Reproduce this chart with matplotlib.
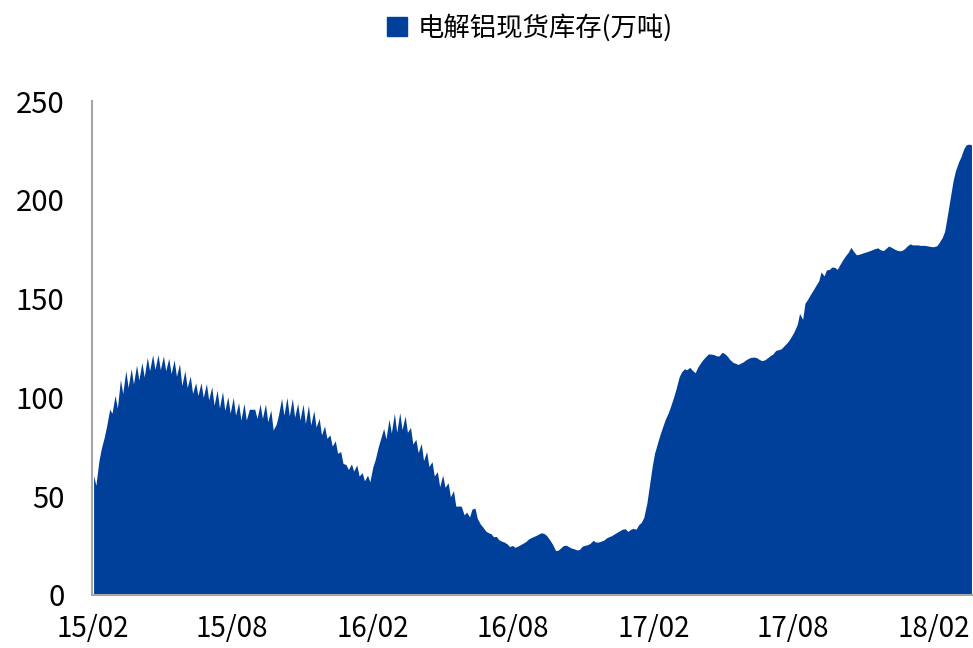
import matplotlib
matplotlib.use("Agg")
import matplotlib.pyplot as plt
import matplotlib.dates as mdates
import matplotlib.patches as mpatches
import numpy as np
import pandas as pd

# ---- data (万吨), twice-weekly readings (Mon / Thu) ----
start_monday = "2015-02-02"

mon_vals = [60.5, 68, 80, 94, 101, 109, 113.5, 114.5, 116.4, 117.6, 120.3, 121.6, 121.6, 121, 119.8, 119,
            117, 113.5, 110.8, 107.4, 107.4, 107, 105.4, 103.7, 103, 100.3, 100, 97.3, 97, 94, 94, 96.6,
            96.6, 93.6, 86.4, 99.5, 100, 99.5, 97, 96.6, 96, 93.3, 89.4, 85.5, 81, 78, 72.6, 66,
            66.3, 65.8, 61.9, 60.6, 65, 75, 84.3, 89, 92, 92.3, 90.6, 84.8, 78.8, 76.7, 72.6, 67.5,
            62.4, 60.7, 56.8, 52.8, 45, 40.5, 39.5, 44,
            35.9, 32.4, 31, 29.6, 27.2, 25.8, 25.1, 24.8, 26.3, 28.4, 29.7, 31.1, 30.9, 27.6, 22.5, 23.9,
            25.2, 23.7, 22.8, 24.8, 25.5, 27.7, 26.8, 27.8, 29.6, 31, 32.6, 33.5, 33.2, 33.3, 36.9, 46.5,
            65.2, 77.1, 85.6, 92.3, 100.3, 110.3, 114.5, 115.2, 112.5, 117.5, 120.8, 121.9, 121, 122.8, 120.8, 117.8,
            116.7, 118.1, 119.9, 120.4, 119.1, 119.1, 121.2, 123.8, 124.6, 127.4, 131.3, 137, 139.5, 150, 154.5, 159,
            161.5, 164.8, 165.8, 167.5, 171.8, 176, 172.2, 172.9, 173.8, 174.8, 175.7, 174.3, 176.6, 175.2, 174.2, 175.3,
            177.7, 177.2, 176.9, 176.8, 176.3, 176.8, 181, 193, 209.5, 219, 225.8, 228.2]

thu_vals = [55.5, 74, 85.5, 92, 94.6, 102, 105, 106.8, 108.8, 110.3, 113.5, 114.2, 114, 113.5, 112, 110.7,
            106, 105, 102, 101, 100, 98.7, 96, 94.6, 93.4, 92, 91, 88.5, 88.5, 94, 89.4, 89.4,
            87.7, 83.5, 91.2, 91, 90.6, 90, 88.5, 86.8, 86, 85, 81, 79.3, 75.4, 71.7, 66.6, 63.5,
            62.7, 60.2, 57.8, 57.3, 68.5, 79, 79, 82, 82.3, 83.7, 82.3, 76.4, 72, 68, 65, 60.2,
            54.8, 54.5, 49.7, 45, 45, 42, 43.4, 38.8,
            34.5, 31.6, 29.5, 28, 26.8, 24.5, 24.1, 25.4, 27, 29, 30.2, 31.5, 29.8, 25.7, 22.6, 25,
            24.5, 23.4, 23, 25.1, 26.1, 26.8, 27.2, 28.8, 30, 31.7, 33.3, 32.2, 33.7, 35.4, 39.3, 54.5,
            71.7, 81, 88.9, 95.6, 104.3, 112.8, 114, 113.8, 115.1, 119.1, 122, 121.7, 121, 122.3, 119.2, 117.3,
            117.3, 119, 120.3, 120.1, 118.6, 120, 121.9, 124.1, 125.8, 128.8, 133.4, 142.5, 147.6, 152, 156.5, 163.5,
            164.5, 166, 164.8, 169.5, 173.2, 174.1, 172.4, 173.3, 174.2, 175.3, 174.8, 175.2, 176.1, 174.6, 174.3, 176.6,
            177.2, 177.2, 177, 176.6, 176.3, 178.5, 184, 200.2, 214.5, 221.5, 227.8, 227.8]

tick_dates = ["2015-02-01", "2015-08-01", "2016-02-01", "2016-08-01",
              "2017-02-01", "2017-08-01", "2018-02-01"]
tick_labels = ["15/02", "15/08", "16/02", "16/08", "17/02", "17/08", "18/02"]
y_ticks = [0, 50, 100, 150, 200, 250]
series_name = "电解铝现货库存(万吨)"

# ---- build the series ----
mondays = pd.date_range(start_monday, periods=len(mon_vals), freq="7D")
thursdays = mondays + pd.Timedelta(days=3)
dates = []
vals = []
for m, t, vm, vt in zip(mondays, thursdays, mon_vals, thu_vals):
    dates += [m, t]
    vals += [vm, vt]
s = pd.Series(vals, index=pd.DatetimeIndex(dates))

color = "#00409A"

plt.rcParams["font.family"] = ["Liberation Sans Narrow", "Noto Sans CJK SC", "DejaVu Sans"]

fig = plt.figure(figsize=(9.73, 6.48), dpi=100)
ax = fig.add_axes([0.0946, 0.0818, 1.0 - 0.0946, 0.8441 - 0.0818])

ax.fill_between(s.index, s.values, 0, color=color, linewidth=0)

ax.set_ylim(0, 250)
ax.set_xlim(pd.Timestamp("2015-01-31"), pd.Timestamp("2018-03-24"))
ax.set_yticks(y_ticks)
ax.set_xticks([pd.Timestamp(d) for d in tick_dates])
ax.set_xticklabels(tick_labels)

for side in ["top", "right"]:
    ax.spines[side].set_visible(False)
for side in ["left", "bottom"]:
    ax.spines[side].set_color("#a6a6a6")
    ax.spines[side].set_linewidth(1.5)

ax.tick_params(axis="x", length=0, labelsize=20, colors="black", pad=14)
ax.tick_params(axis="y", length=0, labelsize=21, colors="black", pad=20)

handle = mpatches.Patch(color=color, label=series_name)
fig.legend(handles=[handle], loc="center", bbox_to_anchor=(530 / 973, 1 - 28 / 648),
           frameon=False, handlelength=0.75, handleheight=0.75, handletextpad=0.4,
           prop={"family": ["Noto Sans CJK SC", "DejaVu Sans"], "size": 19})

fig.savefig("out.png", dpi=100)
